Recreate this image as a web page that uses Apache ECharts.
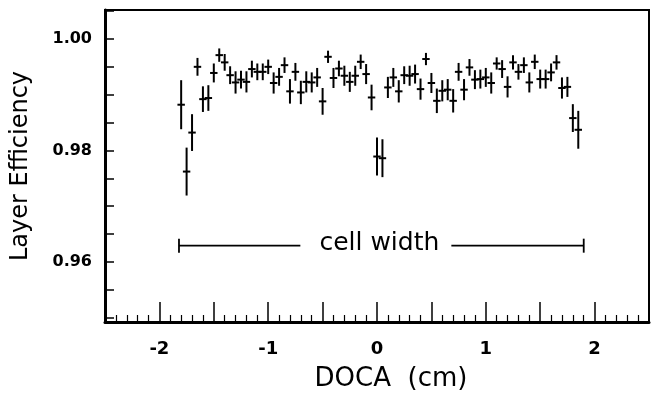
<!DOCTYPE html>
<html>
<head>
<meta charset="utf-8">
<script src="https://cdn.jsdelivr.net/npm/echarts@6.0.0/dist/echarts.min.js"></script>
<style>
  html, body { margin: 0; padding: 0; background: #fff; }
  #chart { width: 656px; height: 398px; }
</style>
</head>
<body>
<div id="chart"></div>
<script>
  // DOCA bin centres (cm)
  var doca = [
    -1.80, -1.75, -1.70, -1.65, -1.60, -1.55, -1.50, -1.45, -1.40, -1.35,
    -1.30, -1.25, -1.20, -1.15, -1.10, -1.05, -1.00, -0.95, -0.90, -0.85,
    -0.80, -0.75, -0.70, -0.65, -0.60, -0.55, -0.50, -0.45, -0.40, -0.35,
    -0.30, -0.25, -0.20, -0.15, -0.10, -0.05, 0.00, 0.05, 0.10, 0.15,
    0.20, 0.25, 0.30, 0.35, 0.40, 0.45, 0.50, 0.55, 0.60, 0.65,
    0.70, 0.75, 0.80, 0.85, 0.90, 0.95, 1.00, 1.05, 1.10, 1.15,
    1.20, 1.25, 1.30, 1.35, 1.40, 1.45, 1.50, 1.55, 1.60, 1.65,
    1.70, 1.75, 1.80, 1.85
  ]
  // layer efficiency per bin
  var efficiency = [
    0.9882, 0.9762, 0.9832, 0.9950, 0.9892, 0.9894, 0.9939, 0.9971, 0.9958, 0.9935,
    0.9922, 0.9927, 0.9923, 0.9946, 0.9941, 0.9941, 0.9950, 0.9921, 0.9932, 0.9953,
    0.9906, 0.9941, 0.9904, 0.9923, 0.9922, 0.9931, 0.9888, 0.9968, 0.9930, 0.9947,
    0.9934, 0.9923, 0.9934, 0.9959, 0.9937, 0.9895, 0.9789, 0.9786, 0.9913, 0.9931,
    0.9906, 0.9935, 0.9934, 0.9937, 0.9910, 0.9964, 0.9921, 0.9889, 0.9907, 0.9909,
    0.9889, 0.9941, 0.9909, 0.9949, 0.9927, 0.9928, 0.9931, 0.9921, 0.9956, 0.9946,
    0.9914, 0.9958, 0.9941, 0.9953, 0.9922, 0.9959, 0.9928, 0.9928, 0.9940, 0.9958,
    0.9912, 0.9914, 0.9858, 0.9837
  ]
  // statistical error on efficiency
  var effError = [
    0.0044, 0.0043, 0.0033, 0.0016, 0.0023, 0.0023, 0.0017, 0.0012, 0.0015, 0.0016,
    0.0020, 0.0016, 0.0019, 0.0015, 0.0015, 0.0015, 0.0013, 0.0019, 0.0016, 0.0014,
    0.0022, 0.0016, 0.0021, 0.0019, 0.0018, 0.0017, 0.0024, 0.0011, 0.0018, 0.0014,
    0.0018, 0.0018, 0.0018, 0.0013, 0.0018, 0.0023, 0.0034, 0.0034, 0.0019, 0.0017,
    0.0020, 0.0016, 0.0018, 0.0017, 0.0019, 0.0011, 0.0018, 0.0022, 0.0019, 0.0019,
    0.0021, 0.0016, 0.0019, 0.0015, 0.0017, 0.0017, 0.0017, 0.0019, 0.0011, 0.0016,
    0.0019, 0.0013, 0.0014, 0.0014, 0.0018, 0.0013, 0.0017, 0.0017, 0.0016, 0.0013,
    0.0019, 0.0018, 0.0025, 0.0034
  ]
  var binHalfWidth = 0.025

  // "cell width" bracket: from, to, height
  var cellWidth = [-1.82, 1.90, 0.9629]

  var xLabels = [-2, -1, 0, 1, 2]
  var yTicks = [0.95, 0.955, 0.96, 0.965, 0.97, 0.975, 0.98, 0.985, 0.99, 0.995, 1.00, 1.005]
  var yLabels = [0.96, 0.98, 1.00]

  var points = doca.map(function (x, i) {
    return [x, efficiency[i], effError[i]]
  })

  var chart = echarts.init(document.getElementById('chart'))
  var font = '"DejaVu Sans", "Liberation Sans", sans-serif'

  var option = {
    backgroundColor: '#fff',
    animation: false,
    grid: {
      left: 105,
      right: 7,
      top: 10,
      bottom: 76,
      show: true,
      borderColor: '#000',
      borderWidth: 2
    },
    xAxis: {
      type: 'value',
      min: -2.5,
      max: 2.5,
      interval: 0.5,
      name: 'DOCA  (cm)',
      nameLocation: 'middle',
      nameGap: 44,
      nameTextStyle: { fontFamily: font, fontSize: 26, color: '#000', padding: [0, 0, 0, 28] },
      axisLine: { onZero: false, lineStyle: { color: '#000', width: 3 } },
      axisTick: { inside: true, length: 20, lineStyle: { color: '#000', width: 1.5 } },
      minorTick: { show: true, splitNumber: 5, length: 7, lineStyle: { color: '#000', width: 1.2 } },
      axisLabel: {
        customValues: xLabels,
        margin: 18,
        fontFamily: font,
        fontSize: 18,
        fontWeight: 'bold',
        color: '#000'
      },
      splitLine: { show: false }
    },
    yAxis: {
      type: 'value',
      min: 0.9492,
      max: 1.0052,
      name: 'Layer Efficiency',
      nameLocation: 'middle',
      nameGap: 72,
      nameTextStyle: { fontFamily: font, fontSize: 24, color: '#000' },
      axisLine: { show: true, onZero: false, lineStyle: { color: '#000', width: 3 } },
      axisTick: { show: true, inside: true, length: 9, customValues: yTicks, lineStyle: { color: '#000', width: 1.5 } },
      axisLabel: {
        customValues: yLabels,
        margin: 13,
        fontFamily: font,
        fontSize: 16,
        fontWeight: 'bold',
        color: '#000',
        formatter: function (v) { return v.toFixed(2) }
      },
      splitLine: { show: false }
    },
    series: [
      {
        type: 'custom',
        name: 'efficiency',
        data: points,
        renderItem: function (params, api) {
          var x = api.value(0), y = api.value(1), e = api.value(2)
          var top = api.coord([x, y + e])
          var bot = api.coord([x, y - e])
          var l = api.coord([x - binHalfWidth, y])
          var r = api.coord([x + binHalfWidth, y])
          return {
            type: 'group',
            children: [
              { type: 'line', shape: { x1: top[0], y1: top[1], x2: bot[0], y2: bot[1] }, style: { stroke: '#000', lineWidth: 2 } },
              { type: 'line', shape: { x1: l[0] - 1, y1: l[1], x2: r[0] + 1, y2: r[1] }, style: { stroke: '#000', lineWidth: 2 } }
            ]
          }
        }
      },
      {
        type: 'custom',
        name: 'cell width',
        data: [cellWidth],
        renderItem: function (params, api) {
          var a = api.coord([api.value(0), api.value(2)])
          var b = api.coord([api.value(1), api.value(2)])
          var mid = api.coord([(api.value(0) + api.value(1)) / 2, api.value(2)])
          var cx = mid[0] - 2
          var st = { stroke: '#000', lineWidth: 1.8 }
          return {
            type: 'group',
            children: [
              { type: 'line', shape: { x1: a[0], y1: a[1] - 7, x2: a[0], y2: a[1] + 7 }, style: st },
              { type: 'line', shape: { x1: b[0], y1: b[1] - 7, x2: b[0], y2: b[1] + 7 }, style: st },
              { type: 'line', shape: { x1: a[0], y1: a[1], x2: cx - 79, y2: a[1] }, style: st },
              { type: 'line', shape: { x1: cx + 72, y1: b[1], x2: b[0], y2: b[1] }, style: st },
              {
                type: 'text',
                style: {
                  text: 'cell width',
                  x: cx,
                  y: a[1] - 2,
                  align: 'center',
                  verticalAlign: 'middle',
                  font: '25px ' + font,
                  fill: '#000'
                }
              }
            ]
          }
        }
      }
    ]
  }

  chart.setOption(option)
</script>
</body>
</html>
